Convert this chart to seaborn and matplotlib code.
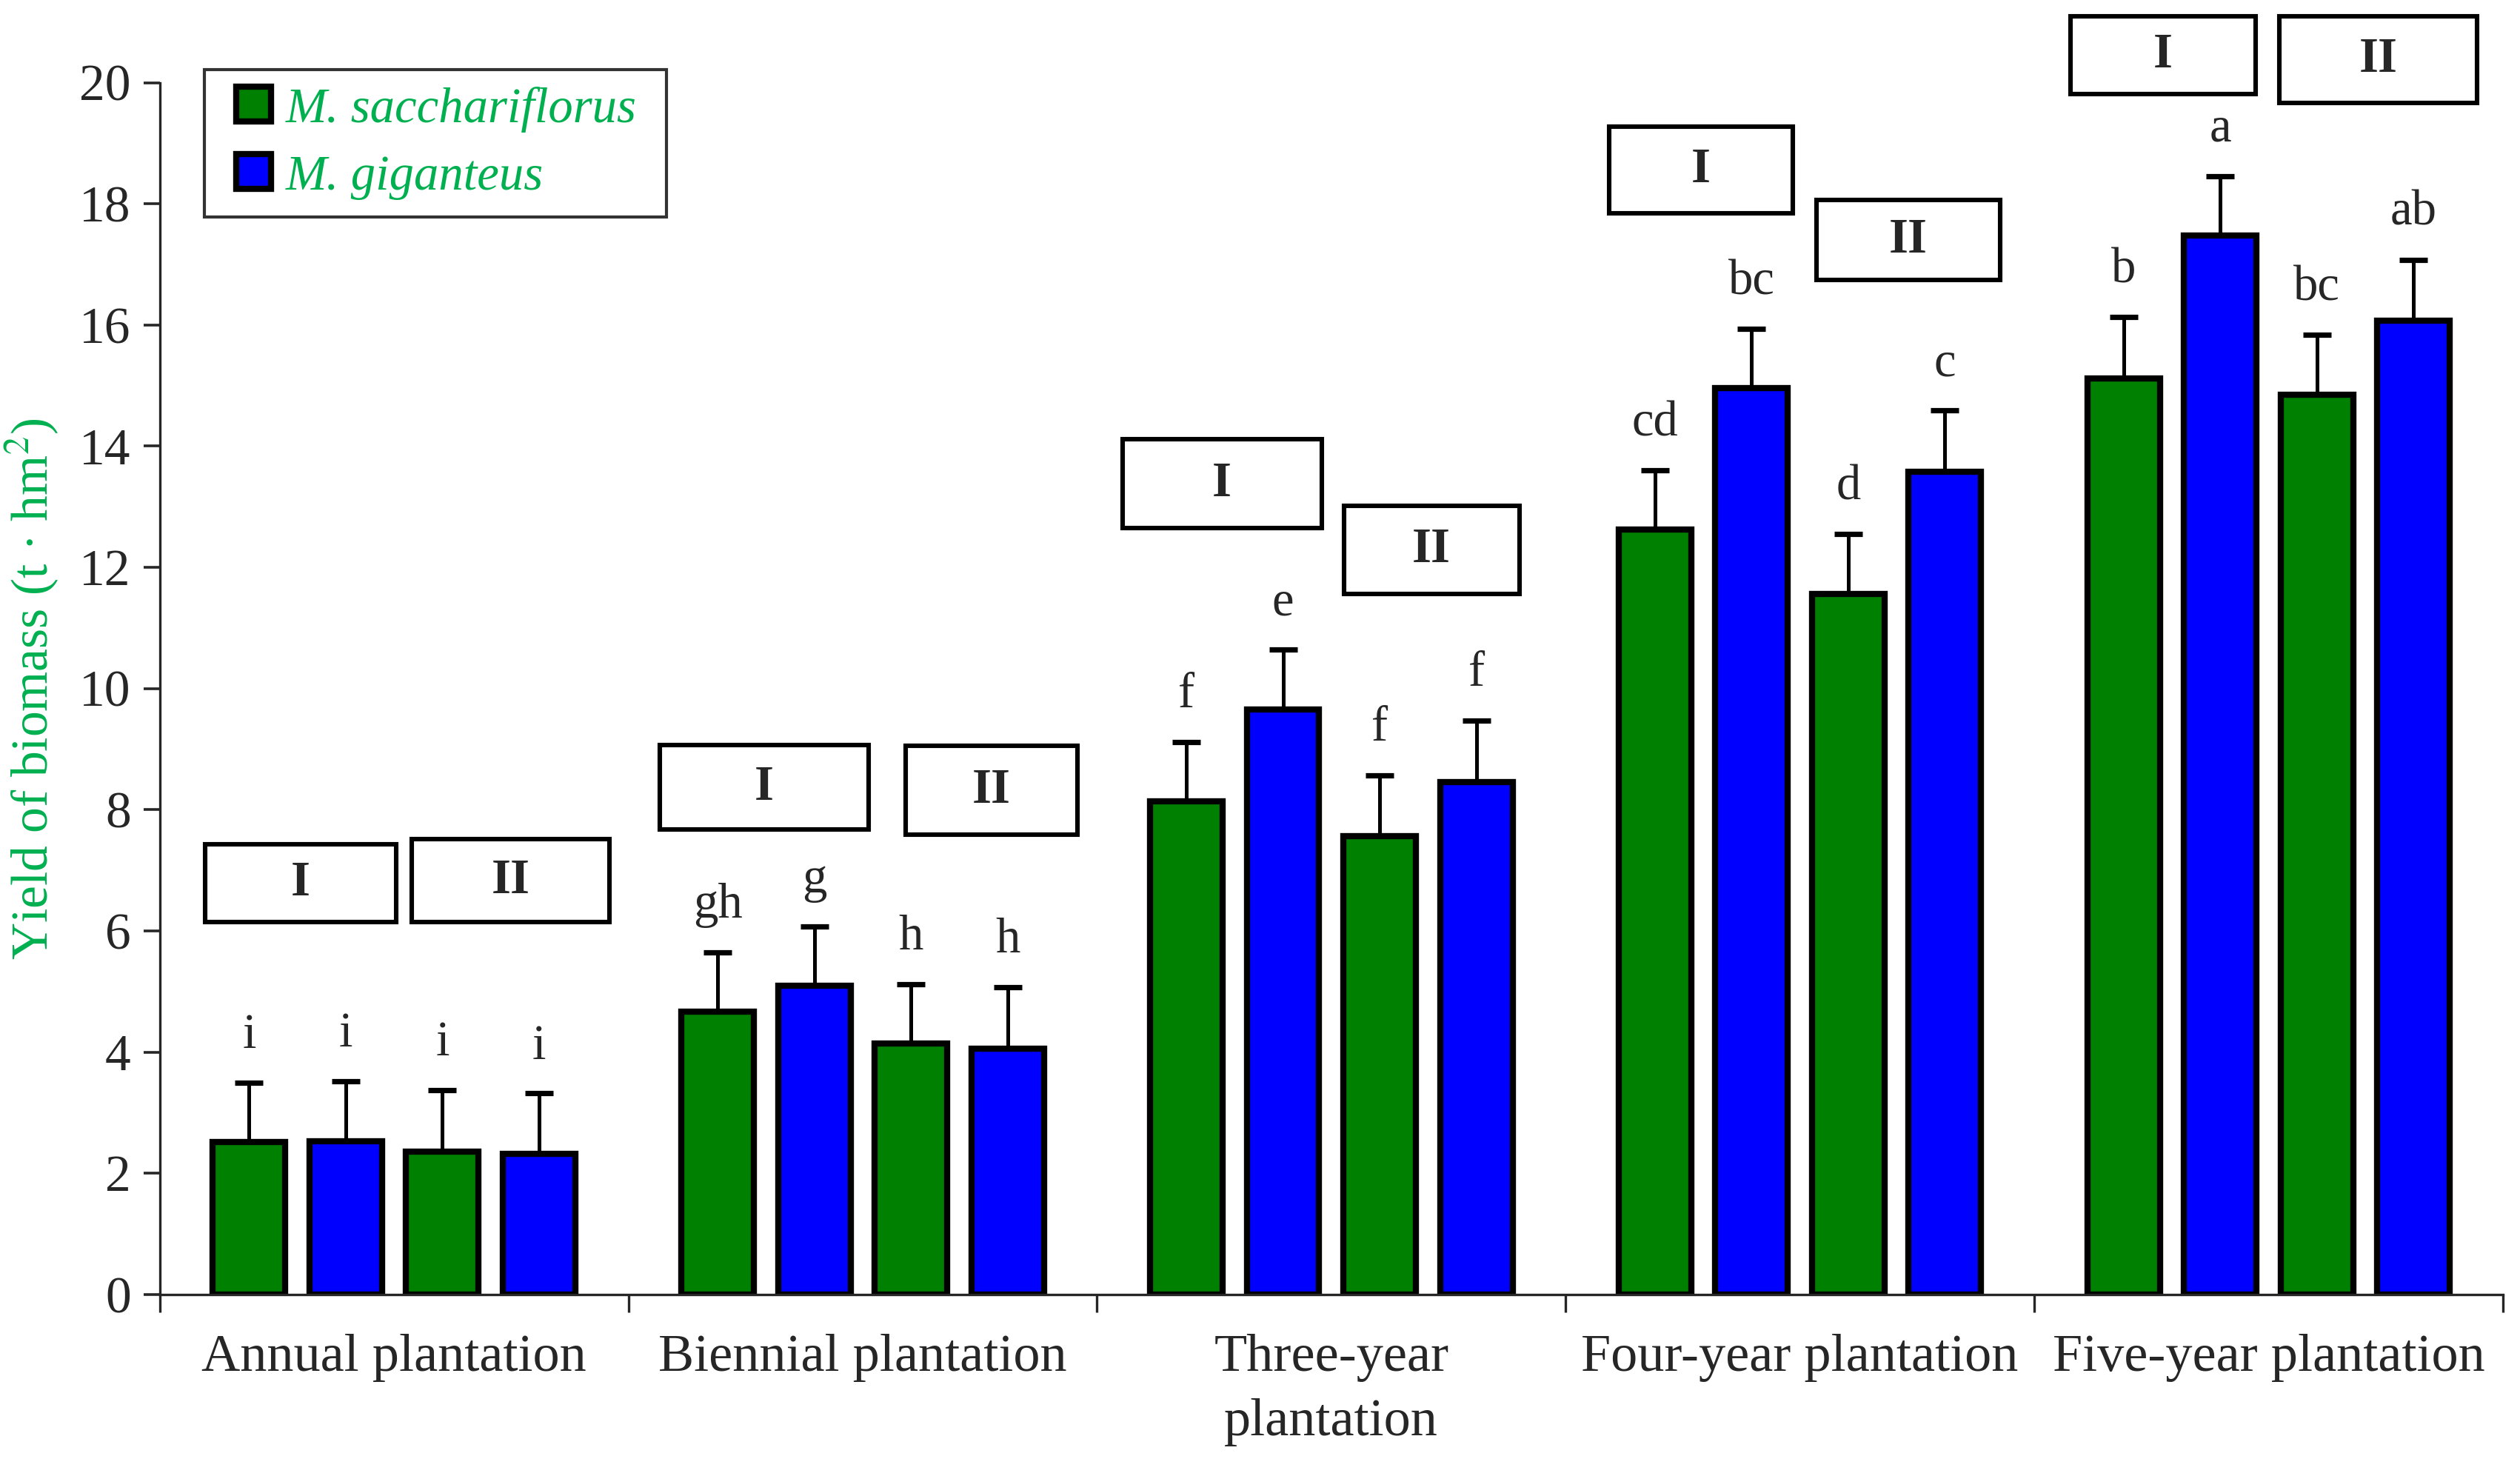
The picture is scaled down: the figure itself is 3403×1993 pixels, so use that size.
import numpy as np
import pandas as pd
import matplotlib
matplotlib.use("Agg")
import matplotlib.pyplot as plt
import seaborn as sns
from matplotlib.patches import Patch, Rectangle
from matplotlib.legend_handler import HandlerPatch

# values
groups = ["Annual plantation", "Biennial plantation", "Three-year\nplantation",
          "Four-year plantation", "Five-year plantation"]
treatments = ["I-Ms", "I-Mg", "II-Ms", "II-Mg"]

ms_I = [2.52, 4.67, 8.14, 12.63, 15.12]
mg_I = [2.53, 5.09, 9.65, 14.96, 17.48]
ms_II = [2.36, 4.14, 7.56, 11.56, 14.85]
mg_II = [2.32, 4.06, 8.46, 13.58, 16.07]

ms_I_err = [0.98, 0.98, 0.98, 0.97, 1.01]
mg_I_err = [0.99, 0.98, 0.99, 0.98, 0.98]
ms_II_err = [1.01, 0.98, 1.01, 0.99, 0.99]
mg_II_err = [1.00, 1.01, 1.01, 1.01, 1.01]

ms_I_lett = ["i", "gh", "f", "cd", "b"]
mg_I_lett = ["i", "g", "e", "bc", "a"]
ms_II_lett = ["i", "h", "f", "d", "bc"]
mg_II_lett = ["i", "h", "f", "c", "ab"]

legend_labels = ["M. sacchariflorus", "M. giganteus"]
box_labels = ["I", "II"]

# box extents (x0, x1, y0, y1) above each pair of bars
box_pos = [
    [(-0.404, 0.004, 6.15, 7.43), (0.038, 0.460, 6.15, 7.51)],
    [(0.567, 1.012, 7.67, 9.07), (1.091, 1.458, 7.59, 9.05)],
    [(1.554, 1.979, 12.65, 14.11), (2.027, 2.401, 11.56, 13.02)],
    [(2.593, 2.984, 17.85, 19.28), (3.036, 3.427, 16.74, 18.06)],
    [(3.578, 3.972, 19.81, 21.09), (4.023, 4.445, 19.66, 21.09)],
]

vals = [ms_I, mg_I, ms_II, mg_II]
errs = [ms_I_err, mg_I_err, ms_II_err, mg_II_err]
letts = [ms_I_lett, mg_I_lett, ms_II_lett, mg_II_lett]

df = pd.DataFrame({
    "group": np.tile(groups, 4),
    "treat": np.repeat(treatments, len(groups)),
    "yield": np.concatenate(vals),
})

green = "#008000"
blue = "#0000FF"
label_green = "#00B050"

sns.set_style("ticks")
plt.rcParams["font.family"] = ["Liberation Serif", "DejaVu Serif"]
plt.rcParams["mathtext.fontset"] = "stix"

fig = plt.figure(figsize=(17.015, 9.965), dpi=200)
ax = fig.add_axes([0.0634, 0.123, 0.9298, 0.821])

sns.barplot(data=df, x="group", y="yield", hue="treat", order=groups,
            hue_order=treatments, palette=[green, blue, green, blue],
            saturation=1, width=0.825, gap=0.25, edgecolor="black",
            linewidth=3, legend=False, ax=ax, errorbar=None)

for cont, err, lett in zip(ax.containers, errs, letts):
    xs = [p.get_x() + p.get_width() / 2 for p in cont.patches]
    ys = [p.get_height() for p in cont.patches]
    ax.errorbar(xs, ys, yerr=[np.zeros(len(err)), err], fmt="none",
                ecolor="black", elinewidth=1.8, capsize=7, capthick=2.6,
                zorder=0.5)
    for x, y, e, t in zip(xs, ys, err, lett):
        ax.text(x, y + e + 0.4, t, ha="center", va="bottom", fontsize=24)

for pair in box_pos:
    for (x0, x1, y0, y1), lab in zip(pair, box_labels):
        ax.add_patch(Rectangle((x0, y0), x1 - x0, y1 - y0, fill=False,
                               edgecolor="black", linewidth=2.2, clip_on=False))
        ax.text((x0 + x1) / 2, (y0 + y1) / 2, lab, ha="center", va="center",
                fontsize=24, fontweight="bold", clip_on=False)

ax.set_xlim(-0.5, len(groups) - 0.5)
ax.set_ylim(0, 20)
ax.set_yticks(np.arange(0, 21, 2))
ax.set_xticks(range(len(groups)))
ax.set_xticklabels(groups, fontsize=26, linespacing=1.45)
ax.set_xticks(np.arange(-0.5, len(groups)), minor=True)
ax.tick_params(axis="x", which="major", length=0, pad=19)
ax.tick_params(axis="x", which="minor", length=8.5, width=1.2, direction="out")
ax.tick_params(axis="y", labelsize=25, length=8, width=1.3, direction="out", pad=6)
for s in ["top", "right"]:
    ax.spines[s].set_visible(False)
for s in ["left", "bottom"]:
    ax.spines[s].set_linewidth(1.2)

ax.set_xlabel("")
ax.set_ylabel("Yield of biomass (t · hm$^2$)", fontsize=25, color=label_green,
              labelpad=9)


def square_handle(legend, orig_handle, xdescent, ydescent, width, height, fontsize):
    # square swatch pushed to the right end of the handle box
    side = height * 1.05
    return Rectangle((width - side - xdescent, -ydescent), side, side)


handles = [Patch(facecolor=c, edgecolor="black", linewidth=3) for c in (green, blue)]
leg = ax.legend(handles, [lab + " " for lab in legend_labels], loc="upper left",
                bbox_to_anchor=(0.019, 1.011), fontsize=24, frameon=True,
                fancybox=False, edgecolor="black", handlelength=1.0,
                handleheight=0.65, handletextpad=0.3, labelspacing=0.45,
                borderpad=0.35, borderaxespad=0,
                handler_map={Patch: HandlerPatch(patch_func=square_handle)})
leg.get_frame().set_linewidth(1.5)
for t in leg.get_texts():
    t.set_color(label_green)
    t.set_fontstyle("italic")

fig.savefig("out.png", dpi=200)
